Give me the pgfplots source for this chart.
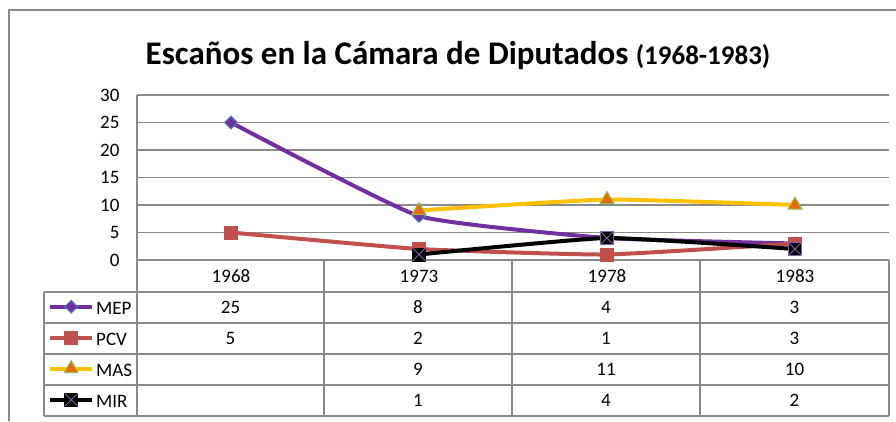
\documentclass[border=0pt]{standalone}
\usepackage{fontspec}
\setmainfont{Carlito}
\usepackage{pgfplots}
\pgfplotsset{compat=1.18}
\definecolor{mep}{HTML}{7030A0}
\definecolor{mepedge}{HTML}{4F81BD}
\definecolor{pcv}{HTML}{C0504D}
\definecolor{mas}{HTML}{FFC000}
\definecolor{masfill}{HTML}{E46C0A}
\definecolor{masedge}{HTML}{9BBB59}
\definecolor{mirx}{HTML}{8064A2}
\definecolor{gridgray}{HTML}{898989}
\pgfdeclareplotmark{boxx}{%
  \pgfpathrectangle{\pgfqpoint{-\pgfplotmarksize}{-\pgfplotmarksize}}{\pgfqpoint{2\pgfplotmarksize}{2\pgfplotmarksize}}%
  \pgfusepathqfillstroke
  \pgfsetstrokecolor{mirx}%
  \pgfsetlinewidth{0.9pt}%
  \pgfpathmoveto{\pgfqpoint{-\pgfplotmarksize}{-\pgfplotmarksize}}%
  \pgfpathlineto{\pgfqpoint{\pgfplotmarksize}{\pgfplotmarksize}}%
  \pgfpathmoveto{\pgfqpoint{-\pgfplotmarksize}{\pgfplotmarksize}}%
  \pgfpathlineto{\pgfqpoint{\pgfplotmarksize}{-\pgfplotmarksize}}%
  \pgfusepathqstroke}
\newcommand{\tf}{\fontsize{19}{22}\selectfont}
\begin{document}
\begin{tikzpicture}[x=1pt,y=1pt]
\useasboundingbox (0,0) rectangle (896,421);
\draw[gridgray, line width=1.3pt] (9,0) -- (9,411) -- (896,411);
\node[anchor=base] at (458,356) {\fontsize{33}{38}\selectfont\bfseries Escaños en la Cámara de Diputados \fontsize{27}{31}\selectfont(1968-1983)};
\begin{axis}[
  at={(137pt,161pt)}, anchor=south west,
  scale only axis, width=752pt, height=165pt,
  xmin=-0.5, xmax=3.5, ymin=0, ymax=30,
  ytick={0,5,...,30}, xtick={0,1,2,3}, xticklabels={1968,1973,1978,1983},
  major tick length=0pt,
  axis lines*=left, axis line style={-, draw=gridgray, line width=1.3pt},
  ymajorgrids, grid style={gridgray, line width=1.3pt},
  tick label style={font=\tf},
  /pgf/number format/assume math mode=true,
  yticklabel style={xshift=-14pt},
  xticklabel style={anchor=center, yshift=-16pt},
  clip=false,
  every axis plot/.append style={line width=4pt, smooth, tension=0.25},
  legend image code/.code={\draw[#1, mark repeat=2, mark phase=2] plot coordinates {(0pt,2pt)(21pt,2pt)(42pt,2pt)};},
  legend style={at={(0,0)}, anchor=north west, xshift=-93pt, yshift=-33pt,
    draw=none, fill=none, inner xsep=4pt, inner ysep=0pt, row sep=0pt, column sep=0pt,
    font=\tf, nodes={minimum height=31pt, inner sep=0pt, inner xsep=2pt, anchor=west}},
]
\addplot[mep, mark=square*, mark size=4.5pt, mark options={rotate=45, fill=mep, draw=mepedge, line width=1pt}]
  coordinates {(0,25)(1,8)(2,4)(3,3)};
\addlegendentry{MEP}
\addplot[pcv, mark=square*, mark size=6.5pt, mark options={fill=pcv, draw=pcv, line width=0.5pt}]
  coordinates {(0,5)(1,2)(2,1)(3,3)};
\addlegendentry{PCV}
\addplot[mas, mark=triangle*, mark size=8pt, mark options={fill=masfill, draw=masedge, line width=1pt}]
  coordinates {(1,9)(2,11)(3,10)};
\addlegendentry{MAS}
\addplot[black, mark=boxx, mark size=6.5pt, mark options={fill=black, draw=black, line width=0.8pt}]
  coordinates {(1,1)(2,4)(3,2)};
\addlegendentry{MIR}
\end{axis}
\begin{scope}[gridgray, line width=1.3pt]
\draw (44,129) -- (889,129);
\draw (44,98) -- (889,98);
\draw (44,67) -- (889,67);
\draw (44,36) -- (889,36);
\draw (44,5) -- (889,5);
\draw (44,129) -- (44,5);
\foreach \x in {137,324,512,700,889} \draw (\x,161) -- (\x,5);
\end{scope}
\begin{scope}[font=\tf]
\node at (230.5,113.5) {25}; \node at (418,113.5) {8}; \node at (606,113.5) {4}; \node at (794.5,113.5) {3};
\node at (230.5,82.5) {5}; \node at (418,82.5) {2}; \node at (606,82.5) {1}; \node at (794.5,82.5) {3};
\node at (418,51.5) {9}; \node at (606,51.5) {11}; \node at (794.5,51.5) {10};
\node at (418,20.5) {1}; \node at (606,20.5) {4}; \node at (794.5,20.5) {2};
\end{scope}
\end{tikzpicture}
\end{document}
